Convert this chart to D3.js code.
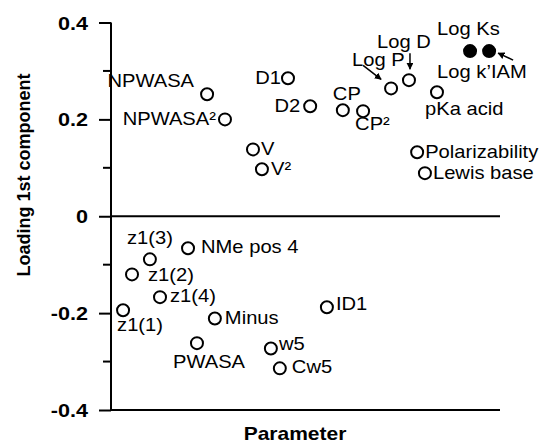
<!DOCTYPE html>
<html>
<head>
<meta charset="utf-8">
<script src="https://cdn.jsdelivr.net/npm/d3@7"></script>
<style>
  body { margin: 0; background: #fff; }
  text { font-family: "Liberation Sans", Arial, sans-serif; fill: #000; }
</style>
</head>
<body>
<div id="chart"></div>
<script>
// parameter names, position along the x axis (arbitrary 0-100) and loading
var names = ["NPWASA", "NPWASA\u00b2", "D1", "D2", "V", "V\u00b2", "CP", "CP\u00b2",
  "Log P", "Log D", "pKa acid", "Polarizability", "Lewis base", "Log Ks", "Log k\u2019IAM",
  "z1(3)", "z1(2)", "NMe pos 4", "z1(4)", "z1(1)", "Minus", "PWASA", "w5", "Cw5", "ID1"];
var xpos = [24.7, 29.3, 45.5, 51.2, 36.5, 38.8, 59.6, 64.8,
  72.0, 76.6, 83.8, 78.7, 80.7, 92.3, 97.2,
  10.0, 5.4, 19.8, 12.6, 3.1, 26.7, 22.1, 41.1, 43.4, 55.5];
var loading = [0.252, 0.200, 0.285, 0.227, 0.138, 0.097, 0.219, 0.217,
  0.264, 0.281, 0.256, 0.132, 0.089, 0.341, 0.341,
  -0.089, -0.120, -0.066, -0.167, -0.194, -0.211, -0.262, -0.273, -0.314, -0.188];
var filled = ["Log Ks", "Log k\u2019IAM"];
var majorTicks = [0.4, 0.2, 0, -0.2, -0.4];
var tickLabels = ["0.4", "0.2", "0", "-0.2", "-0.4"];
var minorTicks = [0.3, 0.1, -0.1, -0.3];

// label placement, pixel offsets from the point
var labelPos = {
  "NPWASA": [-13, -7, "end"], "NPWASA\u00b2": [-9, 6, "end"],
  "D1": [-7, 6, "end"], "D2": [-10, 6, "end"],
  "V": [8, 6, "start"], "V\u00b2": [9, 6, "start"],
  "CP": [-10, -10, "start"], "CP\u00b2": [-8, 19, "start"],
  "Log P": [-39, -22, "start"], "Log D": [-32, -32, "start"],
  "pKa acid": [-12, 23, "start"], "Polarizability": [8, 6, "start"],
  "Lewis base": [8, 6, "start"], "Log Ks": [-33, -16, "start"],
  "Log k\u2019IAM": [-52, 27, "start"],
  "z1(3)": [0, -15, "middle"], "z1(2)": [16, 7, "start"], "NMe pos 4": [13, 5, "start"],
  "z1(4)": [10, 5, "start"], "z1(1)": [-6, 21, "start"], "Minus": [10, 6, "start"],
  "PWASA": [-24, 25, "start"], "w5": [8, 2, "start"], "Cw5": [12, 5, "start"],
  "ID1": [9, 3, "start"]
};
// arrows [point, x1, y1, x2, y2] as offsets from that point
var arrows = [
  ["Log P", -28, -23, -10, -9],
  ["Log D", 1, -27, 1, -11],
  ["Log k\u2019IAM", 24, 9, 9, 2]
];

var width = 543, height = 443;
var stretch = 1.2;

var svg = d3.select("#chart").append("svg")
  .attr("width", width)
  .attr("height", height);

var x = d3.scaleLinear().domain([0, 100]).range([111, 500]);
var y = d3.scaleLinear().domain([-0.4, 0.4]).range([410, 22.5]);

svg.append("defs").append("marker")
  .attr("id", "head")
  .attr("viewBox", "0 0 10 10")
  .attr("refX", 9).attr("refY", 5)
  .attr("markerWidth", 7).attr("markerHeight", 7)
  .attr("markerUnits", "userSpaceOnUse")
  .attr("orient", "auto")
  .append("path").attr("d", "M0,0L10,5L0,10z").attr("fill", "#000");

// y axis
var yAxis = d3.axisLeft(y).tickValues(majorTicks).tickSize(12)
  .tickFormat(function(d, i) { return tickLabels[i]; });
var gy = svg.append("g").attr("transform", "translate(111,0)").call(yAxis);
gy.select(".domain").remove();
gy.selectAll(".tick line").attr("stroke", "#000").attr("stroke-width", 2);
gy.selectAll(".tick text")
  .attr("x", null).attr("dy", null)
  .attr("transform", "translate(-23,6.5) scale(" + stretch + ",1)")
  .style("font-size", "18px").style("font-weight", "bold")
  .style("font-family", "Liberation Sans, Arial, sans-serif");

svg.append("g").selectAll("line").data(minorTicks).enter().append("line")
  .attr("x1", 103).attr("x2", 111)
  .attr("y1", function(d) { return y(d); }).attr("y2", function(d) { return y(d); })
  .attr("stroke", "#000").attr("stroke-width", 2);

svg.append("line").attr("x1", 111).attr("x2", 111).attr("y1", y(0.4)).attr("y2", y(-0.4))
  .attr("stroke", "#000").attr("stroke-width", 2);
svg.append("line").attr("x1", 111).attr("x2", 500).attr("y1", y(0)).attr("y2", y(0))
  .attr("stroke", "#000").attr("stroke-width", 2);
svg.append("line").attr("x1", 111).attr("x2", 500).attr("y1", y(-0.4)).attr("y2", y(-0.4))
  .attr("stroke", "#000").attr("stroke-width", 2);

// axis titles
svg.append("text")
  .attr("transform", "translate(295,440) scale(" + stretch + ",1)")
  .attr("text-anchor", "middle")
  .style("font-size", "17.5px").style("font-weight", "bold")
  .text("Parameter");
svg.append("text")
  .attr("transform", "translate(30,175) rotate(-90)")
  .attr("text-anchor", "middle")
  .style("font-size", "18px").style("font-weight", "bold")
  .text("Loading 1st component");

// points
var pts = names.map(function(n, i) { return { name: n, x: xpos[i], y: loading[i] }; });

svg.append("g").selectAll("circle").data(pts).enter().append("circle")
  .attr("cx", function(d) { return x(d.x); })
  .attr("cy", function(d) { return y(d.y); })
  .attr("r", 6)
  .attr("fill", function(d) { return filled.indexOf(d.name) >= 0 ? "#000" : "#fff"; })
  .attr("stroke", "#000").attr("stroke-width", 2);

svg.append("g").selectAll("text").data(pts).enter().append("text")
  .attr("transform", function(d) {
    var p = labelPos[d.name];
    return "translate(" + (x(d.x) + p[0]) + "," + (y(d.y) + p[1]) + ") scale(1.12,1)";
  })
  .attr("text-anchor", function(d) { return labelPos[d.name][2]; })
  .style("font-size", "18px")
  .text(function(d) { return d.name; });

// arrows
svg.append("g").selectAll("line").data(arrows).enter().append("line")
  .attr("x1", function(a) { var d = pts[names.indexOf(a[0])]; return x(d.x) + a[1]; })
  .attr("y1", function(a) { var d = pts[names.indexOf(a[0])]; return y(d.y) + a[2]; })
  .attr("x2", function(a) { var d = pts[names.indexOf(a[0])]; return x(d.x) + a[3]; })
  .attr("y2", function(a) { var d = pts[names.indexOf(a[0])]; return y(d.y) + a[4]; })
  .attr("stroke", "#000").attr("stroke-width", 1.5)
  .attr("marker-end", "url(#head)");
</script>
</body>
</html>
